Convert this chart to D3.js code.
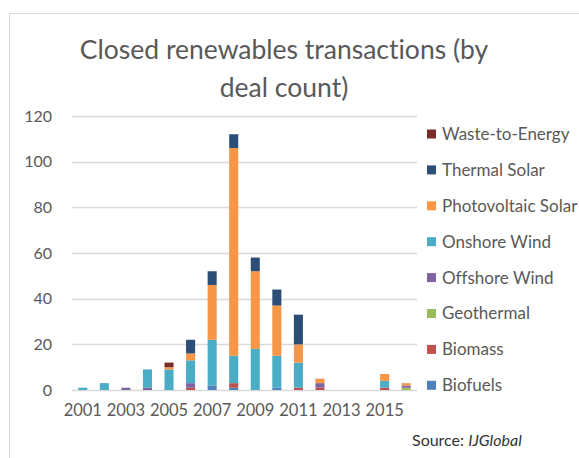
<!DOCTYPE html>
<html>
<head>
<meta charset="utf-8">
<script src="https://cdn.jsdelivr.net/npm/d3@7"></script>
<style>
  body { margin: 0; background: #fff; }
  text { font-family: Lato, "Open Sans", sans-serif; fill: #595959; font-variant-ligatures: none; }
</style>
</head>
<body>
<svg id="chart" width="579" height="458"></svg>
<script>
// deal counts by year
var years = [2001, 2002, 2003, 2004, 2005, 2006, 2007, 2008, 2009, 2010, 2011, 2012, 2013, 2014, 2015, 2016];
var yearLabels = [2001, 2003, 2005, 2007, 2009, 2011, 2013, 2015];
var yTicks = [0, 20, 40, 60, 80, 100, 120];

var biofuels   = [0, 0, 0, 0, 0, 0, 2, 1, 0, 1, 0, 0, 0, 0, 0, 0];
var biomass    = [0, 0, 0, 0, 0, 1, 0, 2, 0, 0, 1, 1, 0, 0, 1, 0];
var geothermal = [0, 0, 0, 0, 0, 0, 0, 0, 0, 0, 0, 0, 0, 0, 0, 1];
var offshore   = [0, 0, 1, 1, 0, 2, 0, 0, 0, 0, 0, 2, 0, 0, 0, 1];
var onshore    = [1, 3, 0, 8, 9, 10, 20, 12, 18, 14, 11, 0, 0, 0, 3, 0];
var pv         = [0, 0, 0, 0, 1, 3, 24, 91, 34, 22, 8, 2, 0, 0, 3, 1];
var thermal    = [0, 0, 0, 0, 0, 6, 6, 6, 6, 7, 13, 0, 0, 0, 0, 0];
var waste      = [0, 0, 0, 0, 2, 0, 0, 0, 0, 0, 0, 0, 0, 0, 0, 0];

// bottom to top stacking order
var seriesNames = ['Biofuels', 'Biomass', 'Geothermal', 'Offshore Wind', 'Onshore Wind', 'Photovoltaic Solar', 'Thermal Solar', 'Waste-to-Energy'];
var seriesVals = [biofuels, biomass, geothermal, offshore, onshore, pv, thermal, waste];
var colors = ['#4f81bd', '#c0504d', '#9bbb59', '#8064a2', '#4bacc6', '#f79646', '#2c4d75', '#772c2a'];

var svg = d3.select('#chart');

// light chart frame (only top and left edges show)
svg.append('path')
	.attr('d', 'M9.5,458 V13.5 H579')
	.attr('fill', 'none')
	.attr('stroke', '#d9d9d9');

var rows = years.map(function(y, i) {
	var r = { year: y };
	seriesNames.forEach(function(n, k) { r[n] = seriesVals[k][i]; });
	return r;
});

var stacked = d3.stack().keys(seriesNames)(rows);

var xscale = d3.scaleBand()
	.domain(years)
	.range([72, 417])
	.paddingInner(0.58)
	.paddingOuter(0.29);

var yscale = d3.scaleLinear()
	.domain([0, 120])
	.range([390, 116]);

// gridlines
svg.append('g')
	.selectAll('line')
	.data(yTicks)
	.enter().append('line')
	.attr('x1', 72)
	.attr('x2', 417)
	.attr('y1', d => Math.round(yscale(d)) + 0.5)
	.attr('y2', d => Math.round(yscale(d)) + 0.5)
	.attr('stroke', '#d9d9d9')
	.attr('stroke-width', 1.3);

// y labels
var yaxis = d3.axisLeft(yscale).tickValues(yTicks).tickSize(0).tickPadding(0);
var yg = svg.append('g')
	.attr('transform', 'translate(52,0)')
	.call(yaxis);
yg.select('.domain').remove();
yg.selectAll('text')
	.attr('fill', '#595959')
	.style('font-size', '16px')
	.style('font-family', 'Lato, sans-serif');

// bars
svg.append('g')
	.selectAll('g')
	.data(stacked)
	.enter().append('g')
	.attr('fill', (d, i) => colors[i])
	.selectAll('rect')
	.data(d => d)
	.enter().append('rect')
	.attr('x', d => xscale(d.data.year))
	.attr('width', xscale.bandwidth())
	.attr('y', d => yscale(d[1]))
	.attr('height', d => yscale(d[0]) - yscale(d[1]));

// x labels
var xaxis = d3.axisBottom(xscale).tickValues(yearLabels).tickSize(0).tickPadding(0);
var xg = svg.append('g')
	.attr('transform', 'translate(0,404)')
	.call(xaxis);
xg.select('.domain').remove();
xg.selectAll('text')
	.attr('fill', '#595959')
	.style('font-size', '16.5px')
	.style('font-family', 'Lato, sans-serif');

// title
var title = svg.append('text')
	.attr('text-anchor', 'middle')
	.style('font-size', '26.5px');
title.append('tspan').attr('x', 284).attr('y', 59).text('Closed renewables transactions (by');
title.append('tspan').attr('x', 284).attr('y', 97).text('deal count)');

// legend, top to bottom is reverse stack order
var legendOrder = seriesNames.slice().reverse();
var lg = svg.append('g')
	.selectAll('g')
	.data(legendOrder)
	.enter().append('g')
	.attr('transform', (d, i) => 'translate(427,' + (134 + i * 35.9) + ')');
lg.append('rect')
	.attr('x', 0)
	.attr('y', -4.5)
	.attr('width', 9)
	.attr('height', 9)
	.attr('fill', d => colors[seriesNames.indexOf(d)]);
lg.append('text')
	.attr('x', 15)
	.attr('y', 0)
	.attr('dy', '0.35em')
	.style('font-size', '17px')
	.text(d => d);

// source
var src = svg.append('text')
	.attr('x', 412)
	.attr('y', 446)
	.style('font-size', '16px')
	.style('fill', '#333');
src.append('tspan').text('Source: ');
src.append('tspan').style('font-style', 'italic').text('IJGlobal');
</script>
</body>
</html>
